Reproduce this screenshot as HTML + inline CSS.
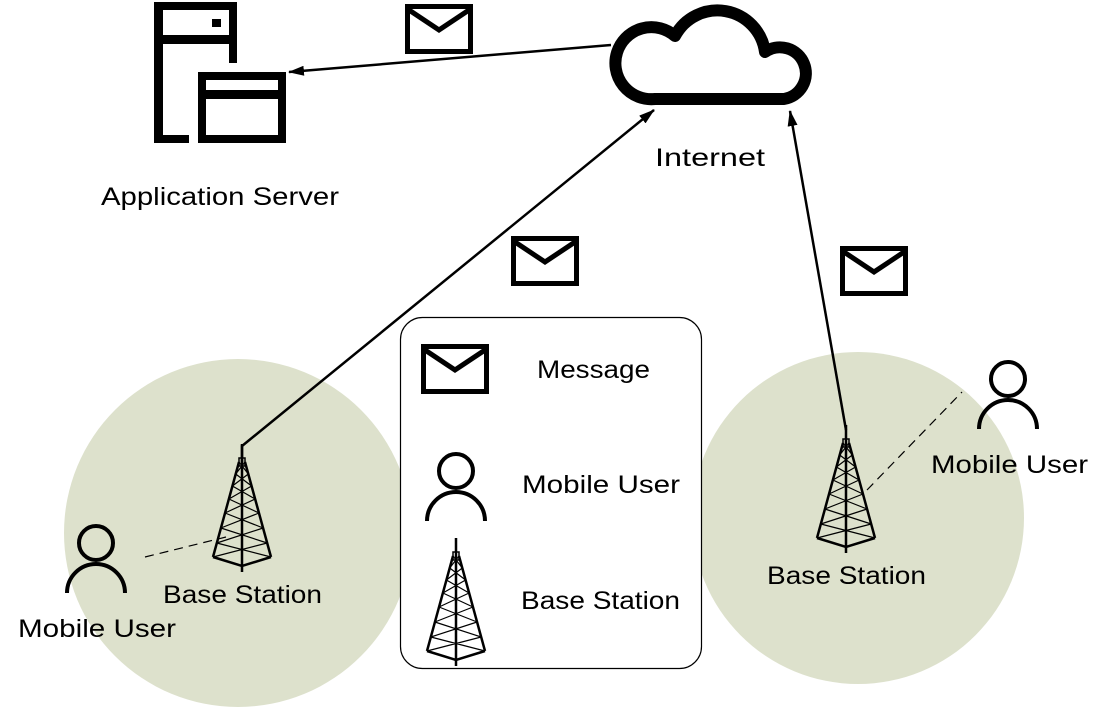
<!DOCTYPE html>
<html><head><meta charset="utf-8"><style>
html,body{margin:0;padding:0;background:#fff;width:1106px;height:709px;overflow:hidden}
svg{display:block}
text{font-family:"Liberation Sans",sans-serif;font-size:25px;fill:#000}
</style></head><body>
<svg width="1106" height="709" viewBox="0 0 1106 709" xmlns="http://www.w3.org/2000/svg">
<defs>
<marker id="ah" markerWidth="16" markerHeight="10" refX="15" refY="5" orient="auto" markerUnits="userSpaceOnUse">
<path d="M0,0 L16,5 L0,10 Z" fill="#000"/>
</marker>
<g id="tower" fill="none" stroke="#000">
<line x1="0" y1="-18" x2="0" y2="110" stroke-width="2.5"/>
<rect x="-3" y="-4" width="6" height="8" stroke-width="1.5"/>
<line x1="-3" y1="0" x2="-29" y2="95" stroke-width="2.5"/>
<line x1="3" y1="0" x2="29" y2="95" stroke-width="2.5"/>
<path d="M-29,95 L0,104 L29,95" stroke-width="2.5"/>
<g stroke-width="1.2">
<path d="M-3,0 L6.3,12 M3,0 L-6.3,12 M-6.3,12 L9.6,24 M6.3,12 L-9.6,24 M-9.6,24 L13.1,37 M9.6,24 L-13.1,37 M-13.1,37 L17,51 M13.1,37 L-17,51 M-17,51 L21.1,66 M17,51 L-21.1,66 M-21.1,66 L25.2,81 M21.1,66 L-25.2,81 M-25.2,81 L29,95 M25.2,81 L-29,95"/>
</g>
</g>
<g id="env">
<rect x="2.5" y="2.5" width="63" height="45" fill="#fff" stroke="#000" stroke-width="5"/>
<path d="M4,6 L34,26 L64,6" fill="none" stroke="#000" stroke-width="5"/>
</g>
<g id="person" fill="none" stroke="#000" stroke-width="4">
<circle cx="0" cy="0" r="17"/>
<path d="M-29,50 A29,29 0 0 1 29,50"/>
</g>
</defs>

<circle cx="238" cy="533" r="174" fill="#dde1cc"/>
<circle cx="858" cy="518" r="166" fill="#dde1cc"/>

<rect x="400.5" y="317.5" width="301" height="351" rx="22" fill="#fff" stroke="#000" stroke-width="1.2"/>

<g fill="#000">
<rect x="154" y="2" width="9" height="141"/>
<rect x="154" y="2" width="83" height="8"/>
<rect x="229" y="2" width="8" height="61"/>
<rect x="154" y="35" width="83" height="9"/>
<rect x="212" y="19" width="9" height="8"/>
<rect x="154" y="135" width="35" height="8"/>
</g>
<rect x="202" y="76" width="80" height="63" fill="none" stroke="#000" stroke-width="8"/>
<rect x="198" y="90" width="88" height="9" fill="#000"/>

<path d="M655,99 A36,36 0 1 1 675,36 A48,48 0 0 1 765,52 A26,26 0 1 1 784,99 Z" fill="#fff" stroke="#000" stroke-width="12" stroke-linejoin="round"/>

<line x1="611" y1="45" x2="289" y2="72" stroke="#000" stroke-width="2.5" marker-end="url(#ah)"/>
<polyline points="242,462 242,446 654,110" fill="none" stroke="#000" stroke-width="2.5" marker-end="url(#ah)"/>
<line x1="846" y1="430" x2="790" y2="111" stroke="#000" stroke-width="2.5" marker-end="url(#ah)"/>
<line x1="145" y1="557" x2="226" y2="537" stroke="#000" stroke-width="1.2" stroke-dasharray="9,6"/>
<line x1="867" y1="490" x2="962" y2="392" stroke="#000" stroke-width="1.2" stroke-dasharray="9,6"/>

<use href="#tower" x="242" y="462"/>
<use href="#tower" x="846" y="443"/>
<use href="#tower" x="456" y="556"/>

<use href="#env" x="405" y="4"/>
<use href="#env" x="511" y="236"/>
<use href="#env" x="840" y="246"/>
<use href="#env" x="421" y="344"/>

<use href="#person" x="96" y="543"/>
<use href="#person" x="1008" y="379"/>
<use href="#person" x="456" y="471"/>

<text x="101" y="205" textLength="238" lengthAdjust="spacingAndGlyphs">Application Server</text>
<text x="655" y="166" textLength="110" lengthAdjust="spacingAndGlyphs">Internet</text>
<text x="537" y="378" textLength="113" lengthAdjust="spacingAndGlyphs">Message</text>
<text x="522" y="493" textLength="158" lengthAdjust="spacingAndGlyphs">Mobile User</text>
<text x="521" y="609" textLength="159" lengthAdjust="spacingAndGlyphs">Base Station</text>
<text x="163" y="603" textLength="159" lengthAdjust="spacingAndGlyphs">Base Station</text>
<text x="18" y="637" textLength="158" lengthAdjust="spacingAndGlyphs">Mobile User</text>
<text x="767" y="584" textLength="159" lengthAdjust="spacingAndGlyphs">Base Station</text>
<text x="931" y="473" textLength="157" lengthAdjust="spacingAndGlyphs">Mobile User</text>
</svg>
</body></html>
